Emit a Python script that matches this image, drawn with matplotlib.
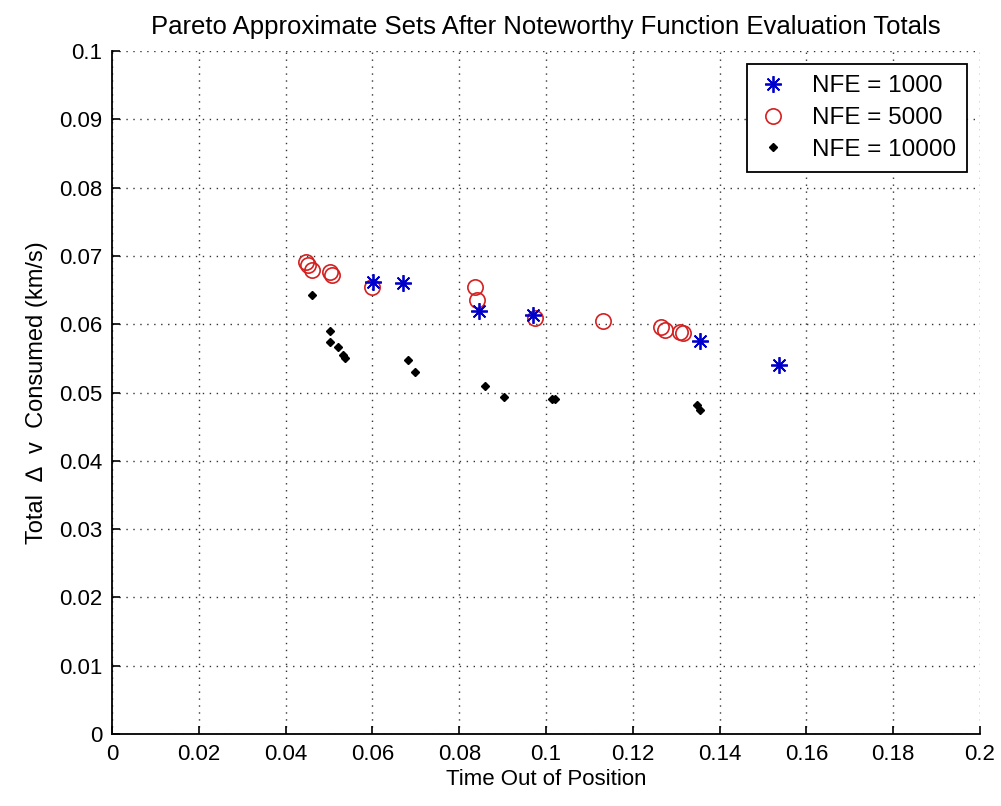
import matplotlib
matplotlib.use("Agg")
import matplotlib.pyplot as plt

plt.rcParams["font.family"] = ["Liberation Sans", "DejaVu Sans"]

# NFE = 1000
x_1000 = [0.0601, 0.0670, 0.0846, 0.0969, 0.1355, 0.1537]
y_1000 = [0.0662, 0.0661, 0.0620, 0.0613, 0.0576, 0.0540]

# NFE = 5000
x_5000 = [0.0447, 0.0452, 0.0460, 0.0501, 0.0507, 0.0598, 0.0836, 0.0840,
          0.0975, 0.1131, 0.1266, 0.1274, 0.1309, 0.1315]
y_5000 = [0.0691, 0.0686, 0.0679, 0.0677, 0.0672, 0.0655, 0.0655, 0.0635,
          0.0609, 0.0605, 0.0596, 0.0592, 0.0589, 0.0587]

# NFE = 10000
x_10000 = [0.0460, 0.0501, 0.0501, 0.0521, 0.0533, 0.0537, 0.0683, 0.0697,
           0.0859, 0.0902, 0.1013, 0.1021, 0.1347, 0.1355]
y_10000 = [0.0643, 0.0590, 0.0574, 0.0567, 0.0555, 0.0550, 0.0547, 0.0530,
           0.0509, 0.0493, 0.0490, 0.0490, 0.0482, 0.0474]

x_ticks = [0, 0.02, 0.04, 0.06, 0.08, 0.1, 0.12, 0.14, 0.16, 0.18, 0.2]
x_ticklabels = ["0", "0.02", "0.04", "0.06", "0.08", "0.1", "0.12", "0.14", "0.16", "0.18", "0.2"]
y_ticks = [0, 0.01, 0.02, 0.03, 0.04, 0.05, 0.06, 0.07, 0.08, 0.09, 0.1]
y_ticklabels = ["0", "0.01", "0.02", "0.03", "0.04", "0.05", "0.06", "0.07", "0.08", "0.09", "0.1"]

fig = plt.figure(figsize=(10.01, 8.06), dpi=100)
ax = fig.add_axes([0.112, 0.0893, 0.867, 0.8474])

# MATLAB '*' is an asterisk, not a filled star
ax.plot(x_1000, y_1000, linestyle="none", marker=(8, 2, 0), markersize=12,
        color="#0000cc", markeredgewidth=1.3, label="NFE = 1000", zorder=4)
ax.plot(x_5000, y_5000, linestyle="none", marker="o", markersize=11,
        markerfacecolor="none", markeredgecolor="#d42020", markeredgewidth=1.2,
        label="NFE = 5000", zorder=3)
ax.plot(x_10000, y_10000, linestyle="none", marker="D", markersize=4.5,
        color="black", label="NFE = 10000", zorder=3)

ax.set_xlim(0, 0.2)
ax.set_ylim(0, 0.1)
ax.set_xticks(x_ticks)
ax.set_xticklabels(x_ticklabels)
ax.set_yticks(y_ticks)
ax.set_yticklabels(y_ticklabels)

ax.grid(True, color="#333333", linestyle=(0, (1, 4)), linewidth=1.0)
ax.set_axisbelow(True)

# box off, ticks inward
ax.spines["top"].set_visible(False)
ax.spines["right"].set_visible(False)
ax.spines["left"].set_linewidth(1.3)
ax.spines["bottom"].set_linewidth(1.3)
ax.tick_params(direction="in", length=6, width=1.2, labelsize=16, pad=7)

ax.set_title("Pareto Approximate Sets After Noteworthy Function Evaluation Totals",
             fontsize=18.5, pad=12)
ax.set_xlabel("Time Out of Position", fontsize=16, labelpad=3)
ax.set_ylabel("Total  \u2206  v  Consumed (km/s)", fontsize=17, labelpad=8)

leg = ax.legend(loc="upper right", fontsize=17.5, frameon=True, fancybox=False,
                borderaxespad=0.55, handletextpad=1.0, labelspacing=0.4,
                borderpad=0.45, handlelength=1.2)
leg.get_frame().set_edgecolor("black")
leg.get_frame().set_linewidth(1.3)
leg.get_frame().set_alpha(1)

fig.savefig("out.png", dpi=100)
